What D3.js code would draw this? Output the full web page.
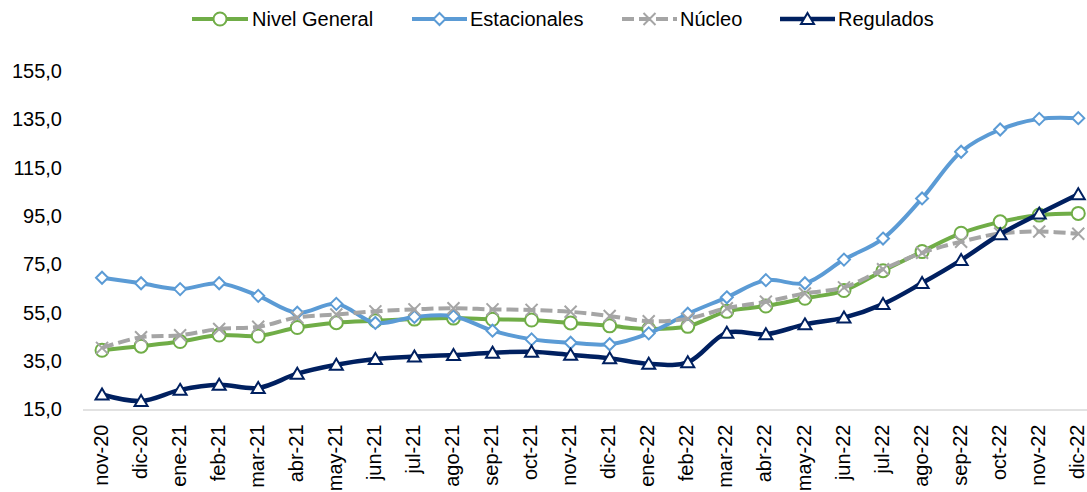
<!DOCTYPE html>
<html>
<head>
<meta charset="utf-8">
<script src="https://cdn.jsdelivr.net/npm/d3@7"></script>
<style>
  html, body { margin: 0; padding: 0; background: #ffffff; }
  svg { display: block; }
  text { font-family: "Liberation Sans", Arial, sans-serif; fill: #000; }
</style>
</head>
<body>
<svg id="chart" width="1087" height="492"></svg>
<script>
const categories = ["nov-20","dic-20","ene-21","feb-21","mar-21","abr-21","may-21","jun-21","jul-21","ago-21","sep-21","oct-21","nov-21","dic-21","ene-22","feb-22","mar-22","abr-22","may-22","jun-22","jul-22","ago-22","sep-22","oct-22","nov-22","dic-22"];
const nivelGeneral = [39.5, 41.2, 43.1, 45.8, 45.4, 48.9, 50.9, 51.7, 52.4, 52.8, 52.3, 52.0, 50.8, 49.6, 48.3, 49.4, 55.6, 57.8, 61.0, 64.2, 72.4, 80.3, 87.9, 92.6, 95.4, 96.1];
const estacionales = [69.5, 67.2, 64.8, 67.2, 62.0, 55.0, 58.7, 50.8, 53.3, 53.6, 47.6, 44.0, 42.6, 42.0, 46.5, 54.6, 61.4, 68.5, 67.2, 77.0, 85.7, 102.3, 121.6, 130.8, 135.2, 135.5];
const nucleo = [40.5, 44.9, 45.7, 48.3, 49.2, 53.1, 54.3, 55.6, 56.4, 56.9, 56.4, 56.2, 55.4, 53.7, 51.5, 52.6, 56.9, 59.6, 63.0, 65.5, 73.0, 79.8, 84.4, 87.8, 88.6, 87.7];
const regulados = [21.2, 18.5, 23.1, 25.2, 23.9, 29.8, 33.5, 35.9, 36.9, 37.5, 38.5, 38.9, 37.6, 36.2, 33.9, 34.5, 46.7, 46.1, 50.2, 53.0, 58.6, 67.3, 76.8, 87.5, 96.0, 104.0];
const yTicks = [15, 35, 55, 75, 95, 115, 135, 155];
const seriesNames = ["Nivel General", "Estacionales", "Núcleo", "Regulados"];

const series = [
  { name: seriesNames[0], values: nivelGeneral, color: "#70AD47", width: 4, dash: null, marker: "circle" },
  { name: seriesNames[1], values: estacionales, color: "#5B9BD5", width: 4, dash: null, marker: "diamond" },
  { name: seriesNames[2], values: nucleo, color: "#A5A5A5", width: 4, dash: "12,5", marker: "x" },
  { name: seriesNames[3], values: regulados, color: "#002060", width: 4.5, dash: null, marker: "triangle" }
];

const svg = d3.select("#chart");
const x = d3.scaleBand().domain(categories).range([82.5, 1097.8]).padding(0);
const cx = c => x(c) + x.bandwidth() / 2;
const y = d3.scaleLinear().domain([15, 155]).range([409.5, 71]);

const fmt = d3.formatLocale({ decimal: ",", thousands: ".", grouping: [3], currency: ["", ""] }).format(".1f");

// Y axis (labels only)
const yAxis = svg.append("g").attr("transform", "translate(62,0)")
  .call(d3.axisLeft(y).tickValues(yTicks).tickFormat(fmt).tickSize(0).tickPadding(0));
yAxis.select(".domain").remove();
yAxis.selectAll("text").style("font-size", "20px").style("font-family", "Liberation Sans, Arial, sans-serif").attr("fill", "#000");

// X axis
const xAxis = svg.append("g").attr("transform", "translate(0,409.5)")
  .call(d3.axisBottom(x).tickSize(0).tickPadding(0));
xAxis.select(".domain").attr("stroke", "#D9D9D9").attr("stroke-width", 1.5);
xAxis.selectAll("text")
  .style("font-size", "20px").style("font-family", "Liberation Sans, Arial, sans-serif").attr("fill", "#000")
  .attr("text-anchor", "end")
  .attr("transform", "rotate(-90)")
  .attr("x", -15)
  .attr("y", 0)
  .attr("dy", "0.28em");

const line = d3.line().x((d, i) => cx(categories[i])).y(d => y(d)).curve(d3.curveCatmullRom.alpha(0.5));

function drawMarker(g, type, color, px, py) {
  if (type === "circle") {
    g.append("circle").attr("cx", px).attr("cy", py).attr("r", 6.5)
      .attr("fill", "#fff").attr("stroke", color).attr("stroke-width", 2);
  } else if (type === "diamond") {
    const s = 6;
    g.append("path").attr("d", `M${px},${py - s}L${px + s},${py}L${px},${py + s}L${px - s},${py}Z`)
      .attr("fill", "#fff").attr("stroke", color).attr("stroke-width", 2);
  } else if (type === "x") {
    const s = 6;
    g.append("path").attr("d", `M${px - s},${py - s}L${px + s},${py + s}M${px - s},${py + s}L${px + s},${py - s}`)
      .attr("fill", "none").attr("stroke", color).attr("stroke-width", 2);
  } else if (type === "triangle") {
    const w = 6.5, h = 11;
    g.append("path").attr("d", `M${px},${py - h * 0.55}L${px + w},${py + h * 0.45}L${px - w},${py + h * 0.45}Z`)
      .attr("fill", "#fff").attr("stroke", color).attr("stroke-width", 2).attr("stroke-linejoin", "miter");
  }
}

series.forEach(s => {
  const g = svg.append("g");
  g.append("path").datum(s.values).attr("d", line)
    .attr("fill", "none").attr("stroke", s.color).attr("stroke-width", s.width)
    .attr("stroke-dasharray", s.dash).attr("stroke-linejoin", "round");
  s.values.forEach((v, i) => drawMarker(g, s.marker, s.color, cx(categories[i]), y(v)));
});

// Legend
const legendItems = [
  { x0: 192, x1: 248, tx: 252 },
  { x0: 412, x1: 467, tx: 470 },
  { x0: 622, x1: 677, tx: 680 },
  { x0: 780, x1: 835, tx: 838 }
];
series.forEach((s, i) => {
  const li = legendItems[i];
  const g = svg.append("g");
  g.append("line").attr("x1", li.x0).attr("x2", li.x1).attr("y1", 19).attr("y2", 19)
    .attr("stroke", s.color).attr("stroke-width", s.width)
    .attr("stroke-dasharray", s.dash);
  drawMarker(g, s.marker, s.color, (li.x0 + li.x1) / 2, 19);
  g.append("text").attr("x", li.tx).attr("y", 19).attr("dy", "0.35em")
    .style("font-size", "20px").text(s.name);
});
</script>
</body>
</html>
